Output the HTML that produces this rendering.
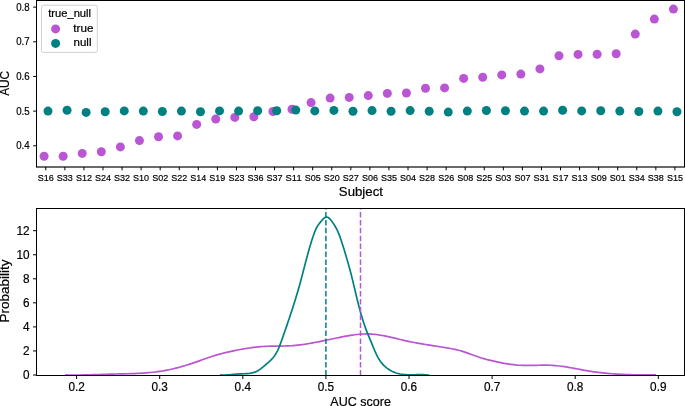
<!DOCTYPE html>
<html><head><meta charset="utf-8"><title>AUC plots</title>
<style>
html,body{margin:0;padding:0;background:#fff;}
body{width:685px;height:406px;overflow:hidden;}
svg{display:block;font-family:"Liberation Sans", sans-serif;fill:#000;will-change:transform;}
text{stroke:#000;stroke-width:0.2px;}
</style></head><body>
<svg width="685" height="406" viewBox="0 0 685 406">
<rect width="685" height="406" fill="#fff"/>
<circle cx="44.1" cy="156.2" r="4.5" fill="#ba55d3"/>
<circle cx="63.17" cy="156.2" r="4.5" fill="#ba55d3"/>
<circle cx="82.24" cy="153.4" r="4.5" fill="#ba55d3"/>
<circle cx="101.31" cy="151.8" r="4.5" fill="#ba55d3"/>
<circle cx="120.38" cy="146.9" r="4.5" fill="#ba55d3"/>
<circle cx="139.45" cy="140.6" r="4.5" fill="#ba55d3"/>
<circle cx="158.52" cy="136.7" r="4.5" fill="#ba55d3"/>
<circle cx="177.59" cy="135.9" r="4.5" fill="#ba55d3"/>
<circle cx="196.66" cy="124.4" r="4.5" fill="#ba55d3"/>
<circle cx="215.73" cy="119.1" r="4.5" fill="#ba55d3"/>
<circle cx="234.8" cy="117.4" r="4.5" fill="#ba55d3"/>
<circle cx="253.87" cy="116.8" r="4.5" fill="#ba55d3"/>
<circle cx="272.94" cy="111.5" r="4.5" fill="#ba55d3"/>
<circle cx="292.01" cy="109.3" r="4.5" fill="#ba55d3"/>
<circle cx="311.08" cy="102.6" r="4.5" fill="#ba55d3"/>
<circle cx="330.15" cy="98.1" r="4.5" fill="#ba55d3"/>
<circle cx="349.22" cy="97.4" r="4.5" fill="#ba55d3"/>
<circle cx="368.29" cy="95.6" r="4.5" fill="#ba55d3"/>
<circle cx="387.36" cy="93.4" r="4.5" fill="#ba55d3"/>
<circle cx="406.43" cy="93" r="4.5" fill="#ba55d3"/>
<circle cx="425.5" cy="88.3" r="4.5" fill="#ba55d3"/>
<circle cx="444.57" cy="87.9" r="4.5" fill="#ba55d3"/>
<circle cx="463.64" cy="78.4" r="4.5" fill="#ba55d3"/>
<circle cx="482.71" cy="77.2" r="4.5" fill="#ba55d3"/>
<circle cx="501.78" cy="74.9" r="4.5" fill="#ba55d3"/>
<circle cx="520.85" cy="74.1" r="4.5" fill="#ba55d3"/>
<circle cx="539.92" cy="68.9" r="4.5" fill="#ba55d3"/>
<circle cx="558.99" cy="55.7" r="4.5" fill="#ba55d3"/>
<circle cx="578.06" cy="54.4" r="4.5" fill="#ba55d3"/>
<circle cx="597.13" cy="54.3" r="4.5" fill="#ba55d3"/>
<circle cx="616.2" cy="53.7" r="4.5" fill="#ba55d3"/>
<circle cx="635.27" cy="34.1" r="4.5" fill="#ba55d3"/>
<circle cx="654.34" cy="19.1" r="4.5" fill="#ba55d3"/>
<circle cx="673.41" cy="9.1" r="4.5" fill="#ba55d3"/>
<circle cx="48" cy="111.1" r="4.5" fill="#008080"/>
<circle cx="67.06" cy="110.3" r="4.5" fill="#008080"/>
<circle cx="86.12" cy="112.4" r="4.5" fill="#008080"/>
<circle cx="105.18" cy="111.7" r="4.5" fill="#008080"/>
<circle cx="124.24" cy="110.9" r="4.5" fill="#008080"/>
<circle cx="143.3" cy="111.1" r="4.5" fill="#008080"/>
<circle cx="162.36" cy="111.5" r="4.5" fill="#008080"/>
<circle cx="181.42" cy="111.1" r="4.5" fill="#008080"/>
<circle cx="200.48" cy="111.7" r="4.5" fill="#008080"/>
<circle cx="219.54" cy="110.9" r="4.5" fill="#008080"/>
<circle cx="238.6" cy="111.1" r="4.5" fill="#008080"/>
<circle cx="257.66" cy="110.7" r="4.5" fill="#008080"/>
<circle cx="276.72" cy="110.7" r="4.5" fill="#008080"/>
<circle cx="295.78" cy="110.1" r="4.5" fill="#008080"/>
<circle cx="314.84" cy="110.9" r="4.5" fill="#008080"/>
<circle cx="333.9" cy="110.4" r="4.5" fill="#008080"/>
<circle cx="352.96" cy="111.3" r="4.5" fill="#008080"/>
<circle cx="372.02" cy="110.6" r="4.5" fill="#008080"/>
<circle cx="391.08" cy="111.3" r="4.5" fill="#008080"/>
<circle cx="410.14" cy="110.6" r="4.5" fill="#008080"/>
<circle cx="429.2" cy="111.3" r="4.5" fill="#008080"/>
<circle cx="448.26" cy="112.1" r="4.5" fill="#008080"/>
<circle cx="467.32" cy="111.1" r="4.5" fill="#008080"/>
<circle cx="486.38" cy="110.5" r="4.5" fill="#008080"/>
<circle cx="505.44" cy="110.7" r="4.5" fill="#008080"/>
<circle cx="524.5" cy="111.1" r="4.5" fill="#008080"/>
<circle cx="543.56" cy="111.1" r="4.5" fill="#008080"/>
<circle cx="562.62" cy="110.3" r="4.5" fill="#008080"/>
<circle cx="581.68" cy="110.9" r="4.5" fill="#008080"/>
<circle cx="600.74" cy="110.8" r="4.5" fill="#008080"/>
<circle cx="619.8" cy="111.1" r="4.5" fill="#008080"/>
<circle cx="638.86" cy="111.5" r="4.5" fill="#008080"/>
<circle cx="657.92" cy="111.1" r="4.5" fill="#008080"/>
<circle cx="676.98" cy="111.7" r="4.5" fill="#008080"/>
<rect x="36.5" y="0.5" width="648" height="166.5" fill="none" stroke="#000" stroke-width="1"/>
<path d="M36.0 167H685.0" stroke="#000" stroke-opacity="0.35" stroke-width="1" fill="none"/>
<text x="45.8" y="180.6" font-size="9.8" text-anchor="middle" textLength="16.02" lengthAdjust="spacingAndGlyphs">S16</text>
<text x="64.86" y="180.6" font-size="9.8" text-anchor="middle" textLength="16.02" lengthAdjust="spacingAndGlyphs">S33</text>
<text x="83.93" y="180.6" font-size="9.8" text-anchor="middle" textLength="16.02" lengthAdjust="spacingAndGlyphs">S12</text>
<text x="102.99" y="180.6" font-size="9.8" text-anchor="middle" textLength="16.02" lengthAdjust="spacingAndGlyphs">S24</text>
<text x="122.06" y="180.6" font-size="9.8" text-anchor="middle" textLength="16.02" lengthAdjust="spacingAndGlyphs">S32</text>
<text x="141.12" y="180.6" font-size="9.8" text-anchor="middle" textLength="16.02" lengthAdjust="spacingAndGlyphs">S10</text>
<text x="160.18" y="180.6" font-size="9.8" text-anchor="middle" textLength="16.02" lengthAdjust="spacingAndGlyphs">S02</text>
<text x="179.25" y="180.6" font-size="9.8" text-anchor="middle" textLength="16.02" lengthAdjust="spacingAndGlyphs">S22</text>
<text x="198.31" y="180.6" font-size="9.8" text-anchor="middle" textLength="16.02" lengthAdjust="spacingAndGlyphs">S14</text>
<text x="217.38" y="180.6" font-size="9.8" text-anchor="middle" textLength="16.02" lengthAdjust="spacingAndGlyphs">S19</text>
<text x="236.44" y="180.6" font-size="9.8" text-anchor="middle" textLength="16.02" lengthAdjust="spacingAndGlyphs">S23</text>
<text x="255.5" y="180.6" font-size="9.8" text-anchor="middle" textLength="16.02" lengthAdjust="spacingAndGlyphs">S36</text>
<text x="274.57" y="180.6" font-size="9.8" text-anchor="middle" textLength="16.02" lengthAdjust="spacingAndGlyphs">S37</text>
<text x="293.63" y="180.6" font-size="9.8" text-anchor="middle" textLength="16.02" lengthAdjust="spacingAndGlyphs">S11</text>
<text x="312.7" y="180.6" font-size="9.8" text-anchor="middle" textLength="16.02" lengthAdjust="spacingAndGlyphs">S05</text>
<text x="331.76" y="180.6" font-size="9.8" text-anchor="middle" textLength="16.02" lengthAdjust="spacingAndGlyphs">S20</text>
<text x="350.82" y="180.6" font-size="9.8" text-anchor="middle" textLength="16.02" lengthAdjust="spacingAndGlyphs">S27</text>
<text x="369.89" y="180.6" font-size="9.8" text-anchor="middle" textLength="16.02" lengthAdjust="spacingAndGlyphs">S06</text>
<text x="388.95" y="180.6" font-size="9.8" text-anchor="middle" textLength="16.02" lengthAdjust="spacingAndGlyphs">S35</text>
<text x="408.02" y="180.6" font-size="9.8" text-anchor="middle" textLength="16.02" lengthAdjust="spacingAndGlyphs">S04</text>
<text x="427.08" y="180.6" font-size="9.8" text-anchor="middle" textLength="16.02" lengthAdjust="spacingAndGlyphs">S28</text>
<text x="446.14" y="180.6" font-size="9.8" text-anchor="middle" textLength="16.02" lengthAdjust="spacingAndGlyphs">S26</text>
<text x="465.21" y="180.6" font-size="9.8" text-anchor="middle" textLength="16.02" lengthAdjust="spacingAndGlyphs">S08</text>
<text x="484.27" y="180.6" font-size="9.8" text-anchor="middle" textLength="16.02" lengthAdjust="spacingAndGlyphs">S25</text>
<text x="503.34" y="180.6" font-size="9.8" text-anchor="middle" textLength="16.02" lengthAdjust="spacingAndGlyphs">S03</text>
<text x="522.4" y="180.6" font-size="9.8" text-anchor="middle" textLength="16.02" lengthAdjust="spacingAndGlyphs">S07</text>
<text x="541.46" y="180.6" font-size="9.8" text-anchor="middle" textLength="16.02" lengthAdjust="spacingAndGlyphs">S31</text>
<text x="560.53" y="180.6" font-size="9.8" text-anchor="middle" textLength="16.02" lengthAdjust="spacingAndGlyphs">S17</text>
<text x="579.59" y="180.6" font-size="9.8" text-anchor="middle" textLength="16.02" lengthAdjust="spacingAndGlyphs">S13</text>
<text x="598.66" y="180.6" font-size="9.8" text-anchor="middle" textLength="16.02" lengthAdjust="spacingAndGlyphs">S09</text>
<text x="617.72" y="180.6" font-size="9.8" text-anchor="middle" textLength="16.02" lengthAdjust="spacingAndGlyphs">S01</text>
<text x="636.78" y="180.6" font-size="9.8" text-anchor="middle" textLength="16.02" lengthAdjust="spacingAndGlyphs">S34</text>
<text x="655.85" y="180.6" font-size="9.8" text-anchor="middle" textLength="16.02" lengthAdjust="spacingAndGlyphs">S38</text>
<text x="674.91" y="180.6" font-size="9.8" text-anchor="middle" textLength="16.02" lengthAdjust="spacingAndGlyphs">S15</text>
<text x="29.6" y="149.15" font-size="10" text-anchor="end" textLength="13.36" lengthAdjust="spacingAndGlyphs">0.4</text>
<text x="29.6" y="114.5" font-size="10" text-anchor="end" textLength="13.36" lengthAdjust="spacingAndGlyphs">0.5</text>
<text x="29.6" y="79.85" font-size="10" text-anchor="end" textLength="13.36" lengthAdjust="spacingAndGlyphs">0.6</text>
<text x="29.6" y="45.2" font-size="10" text-anchor="end" textLength="13.36" lengthAdjust="spacingAndGlyphs">0.7</text>
<text x="29.6" y="10.55" font-size="10" text-anchor="end" textLength="13.36" lengthAdjust="spacingAndGlyphs">0.8</text>
<path d="M45.8 167v3.3M64.86 167v3.3M83.93 167v3.3M102.99 167v3.3M122.06 167v3.3M141.12 167v3.3M160.18 167v3.3M179.25 167v3.3M198.31 167v3.3M217.38 167v3.3M236.44 167v3.3M255.5 167v3.3M274.57 167v3.3M293.63 167v3.3M312.7 167v3.3M331.76 167v3.3M350.82 167v3.3M369.89 167v3.3M388.95 167v3.3M408.02 167v3.3M427.08 167v3.3M446.14 167v3.3M465.21 167v3.3M484.27 167v3.3M503.34 167v3.3M522.4 167v3.3M541.46 167v3.3M560.53 167v3.3M579.59 167v3.3M598.66 167v3.3M617.72 167v3.3M636.78 167v3.3M655.85 167v3.3M674.91 167v3.3M36.5 145.75h-3.3M36.5 111.1h-3.3M36.5 76.45h-3.3M36.5 41.8h-3.3M36.5 7.15h-3.3" stroke="#000" stroke-width="1" fill="none"/>
<text x="360.9" y="195.5" font-size="12.3" text-anchor="middle" textLength="44.11" lengthAdjust="spacingAndGlyphs">Subject</text>
<text x="9.3" y="83.4" font-size="12.3" text-anchor="middle" textLength="24.95" lengthAdjust="spacingAndGlyphs" transform="rotate(-90 9.3 83.4)">AUC</text>
<rect x="41.5" y="5.2" width="55.8" height="47.2" rx="2" ry="2" fill="#fff" fill-opacity="0.8" stroke="#d0d0d0" stroke-width="1"/>
<text x="69.6" y="16.8" font-size="10.2" text-anchor="middle" textLength="42.88" lengthAdjust="spacingAndGlyphs">true_null</text>
<circle cx="55.6" cy="28.9" r="4.5" fill="#ba55d3"/>
<circle cx="55.6" cy="43.4" r="4.5" fill="#008080"/>
<text x="73.3" y="31.9" font-size="10.2" text-anchor="start" textLength="20.11" lengthAdjust="spacingAndGlyphs">true</text>
<text x="73.6" y="46.4" font-size="10.2" text-anchor="start" textLength="17.87" lengthAdjust="spacingAndGlyphs">null</text>
<path d="M65.09 374.96 67.42 375.00 69.74 375.04 72.06 375.05 74.38 375.05 76.70 375.04 79.01 375.02 81.33 374.99 83.64 374.95 85.95 374.90 88.26 374.84 90.57 374.78 92.88 374.71 95.19 374.64 97.49 374.57 99.80 374.50 102.11 374.42 104.42 374.35 106.73 374.27 109.05 374.20 111.36 374.14 113.68 374.08 116.00 374.02 118.31 373.97 120.64 373.92 122.96 373.87 125.28 373.82 127.60 373.76 129.92 373.70 132.24 373.63 134.56 373.54 136.88 373.45 139.20 373.34 141.51 373.21 143.83 373.07 146.14 372.90 148.44 372.71 150.75 372.50 153.04 372.27 155.34 372.00 157.63 371.70 159.91 371.37 162.19 371.01 164.47 370.61 166.74 370.18 169.00 369.72 171.26 369.23 173.51 368.71 175.76 368.17 178.00 367.59 180.23 366.99 182.46 366.36 184.68 365.71 186.90 365.04 189.11 364.34 191.31 363.63 193.50 362.89 195.69 362.13 197.88 361.36 200.06 360.58 202.23 359.79 204.41 359.00 206.59 358.22 208.78 357.46 210.97 356.72 213.17 356.01 215.38 355.33 217.61 354.68 219.84 354.07 222.08 353.48 224.33 352.92 226.58 352.38 228.85 351.86 231.11 351.36 233.38 350.88 235.65 350.41 237.92 349.96 240.20 349.53 242.48 349.12 244.76 348.73 247.04 348.36 249.33 348.01 251.62 347.69 253.91 347.40 256.20 347.13 258.50 346.90 260.80 346.69 263.10 346.52 265.41 346.37 267.72 346.27 270.03 346.20 272.34 346.15 274.66 346.12 276.98 346.10 279.30 346.09 281.62 346.06 283.94 346.02 286.25 345.96 288.57 345.86 290.89 345.73 293.20 345.56 295.51 345.36 297.82 345.13 300.12 344.87 302.42 344.57 304.72 344.25 307.00 343.90 309.28 343.53 311.56 343.13 313.83 342.71 316.10 342.28 318.37 341.83 320.63 341.37 322.89 340.90 325.16 340.43 327.42 339.94 329.68 339.46 331.94 338.98 334.21 338.50 336.48 338.02 338.75 337.55 341.02 337.09 343.30 336.64 345.59 336.21 347.88 335.80 350.17 335.42 352.47 335.07 354.77 334.76 357.07 334.49 359.37 334.27 361.67 334.10 363.97 333.99 366.27 333.94 368.56 333.97 370.85 334.06 373.14 334.23 375.43 334.46 377.71 334.75 379.99 335.09 382.27 335.48 384.55 335.91 386.83 336.37 389.10 336.86 391.37 337.38 393.64 337.91 395.91 338.45 398.18 338.99 400.45 339.53 402.72 340.07 404.99 340.59 407.26 341.10 409.53 341.58 411.80 342.04 414.07 342.48 416.34 342.90 418.62 343.31 420.89 343.71 423.16 344.10 425.44 344.47 427.72 344.84 429.99 345.20 432.27 345.56 434.55 345.92 436.83 346.27 439.12 346.63 441.40 346.99 443.69 347.35 445.98 347.73 448.27 348.11 450.55 348.52 452.83 348.96 455.10 349.43 457.36 349.95 459.60 350.53 461.83 351.16 464.03 351.86 466.22 352.60 468.40 353.38 470.58 354.18 472.75 354.99 474.92 355.79 477.10 356.57 479.29 357.31 481.49 358.01 483.70 358.66 485.93 359.28 488.16 359.87 490.40 360.42 492.66 360.95 494.91 361.45 497.18 361.94 499.45 362.41 501.72 362.86 504.00 363.29 506.28 363.70 508.57 364.08 510.86 364.41 513.16 364.70 515.46 364.95 517.76 365.14 520.07 365.27 522.39 365.36 524.70 365.41 527.02 365.42 529.34 365.41 531.66 365.38 533.99 365.34 536.31 365.29 538.63 365.25 540.95 365.21 543.27 365.18 545.59 365.18 547.90 365.21 550.21 365.27 552.52 365.37 554.82 365.53 557.12 365.73 559.41 365.98 561.70 366.27 563.99 366.59 566.27 366.95 568.55 367.33 570.83 367.73 573.11 368.15 575.39 368.58 577.67 369.01 579.95 369.44 582.23 369.87 584.51 370.29 586.79 370.70 589.07 371.08 591.36 371.45 593.65 371.79 595.94 372.10 598.23 372.40 600.53 372.68 602.83 372.93 605.13 373.17 607.43 373.38 609.73 373.58 612.04 373.76 614.35 373.93 616.65 374.08 618.96 374.22 621.27 374.34 623.59 374.44 625.90 374.54 628.21 374.62 630.53 374.69 632.84 374.76 635.16 374.81 637.47 374.85 639.79 374.89 642.11 374.92 644.42 374.94 646.74 374.95 649.06 374.96 651.37 374.97 653.69 374.97 656.00 374.97" stroke="#ba55d3" stroke-width="1.7" fill="none" stroke-linejoin="round"/>
<path d="M219.87 374.96 221.55 375.02 223.21 375.03 224.84 375.00 226.46 374.94 228.06 374.85 229.65 374.74 231.24 374.61 232.83 374.47 234.42 374.33 236.02 374.20 237.63 374.08 239.26 373.97 240.90 373.89 242.57 373.82 244.24 373.75 245.91 373.66 247.57 373.55 249.21 373.38 250.83 373.15 252.41 372.84 253.95 372.43 255.44 371.91 256.86 371.26 258.24 370.50 259.57 369.63 260.87 368.69 262.14 367.68 263.40 366.64 264.66 365.57 265.92 364.50 267.18 363.43 268.43 362.34 269.65 361.24 270.84 360.10 271.97 358.94 273.04 357.73 274.04 356.48 274.96 355.17 275.82 353.83 276.62 352.44 277.36 351.03 278.06 349.58 278.71 348.11 279.33 346.61 279.93 345.10 280.50 343.57 281.06 342.04 281.60 340.50 282.15 338.96 282.69 337.42 283.23 335.88 283.77 334.34 284.30 332.80 284.84 331.26 285.38 329.72 285.91 328.19 286.44 326.65 286.97 325.11 287.49 323.57 288.02 322.04 288.54 320.50 289.06 318.96 289.58 317.42 290.09 315.89 290.60 314.35 291.11 312.81 291.62 311.27 292.12 309.73 292.62 308.18 293.11 306.64 293.60 305.10 294.09 303.56 294.58 302.01 295.06 300.46 295.53 298.92 296.01 297.37 296.48 295.82 296.94 294.27 297.40 292.71 297.85 291.16 298.31 289.60 298.75 288.05 299.19 286.49 299.63 284.93 300.06 283.36 300.49 281.80 300.91 280.23 301.33 278.66 301.74 277.09 302.15 275.52 302.57 273.95 302.97 272.38 303.38 270.81 303.79 269.24 304.20 267.66 304.60 266.09 305.01 264.52 305.42 262.95 305.83 261.38 306.24 259.81 306.66 258.24 307.08 256.67 307.50 255.10 307.93 253.54 308.36 251.97 308.80 250.41 309.24 248.85 309.69 247.30 310.15 245.74 310.61 244.19 311.09 242.64 311.57 241.10 312.06 239.55 312.56 238.01 313.08 236.48 313.60 234.95 314.14 233.42 314.70 231.91 315.30 230.41 315.95 228.94 316.67 227.50 317.47 226.10 318.37 224.76 319.36 223.45 320.43 222.13 321.57 220.76 322.74 219.39 323.95 218.19 325.18 217.32 326.43 216.97 327.67 217.24 328.89 218.02 330.08 219.16 331.22 220.52 332.29 221.94 333.29 223.38 334.23 224.82 335.11 226.27 335.92 227.73 336.69 229.20 337.41 230.67 338.08 232.15 338.72 233.64 339.32 235.14 339.89 236.64 340.44 238.15 340.96 239.66 341.46 241.18 341.96 242.70 342.44 244.23 342.92 245.76 343.40 247.29 343.88 248.83 344.35 250.37 344.82 251.92 345.29 253.47 345.75 255.02 346.21 256.57 346.67 258.13 347.12 259.69 347.57 261.25 348.01 262.82 348.45 264.38 348.89 265.95 349.32 267.52 349.75 269.09 350.17 270.67 350.58 272.24 350.99 273.82 351.40 275.40 351.79 276.98 352.19 278.56 352.58 280.14 352.96 281.72 353.34 283.30 353.72 284.88 354.10 286.46 354.47 288.05 354.85 289.63 355.22 291.21 355.60 292.79 355.97 294.37 356.35 295.95 356.73 297.52 357.11 299.10 357.50 300.68 357.89 302.25 358.28 303.82 358.68 305.39 359.09 306.96 359.50 308.52 359.92 310.09 360.34 311.65 360.78 313.21 361.22 314.76 361.68 316.31 362.14 317.86 362.61 319.41 363.10 320.95 363.60 322.49 364.11 324.02 364.63 325.55 365.17 327.08 365.72 328.60 366.29 330.12 366.87 331.63 367.47 333.15 368.07 334.65 368.69 336.16 369.31 337.66 369.94 339.17 370.57 340.67 371.20 342.17 371.82 343.68 372.45 345.19 373.07 346.71 373.69 348.22 374.32 349.73 374.96 351.22 375.62 352.71 376.30 354.18 377.01 355.62 377.76 357.05 378.54 358.44 379.38 359.80 380.26 361.13 381.20 362.41 382.21 363.65 383.28 364.84 384.43 365.98 385.64 367.06 386.91 368.08 388.23 369.04 389.61 369.93 391.02 370.75 392.48 371.49 393.96 372.16 395.48 372.74 397.01 373.23 398.56 373.64 400.13 373.98 401.71 374.24 403.30 374.44 404.91 374.59 406.52 374.69 408.15 374.75 409.78 374.77 411.41 374.77 413.05 374.76 414.69 374.73 416.33 374.70 417.96 374.67 419.60 374.65 421.23 374.66 422.86 374.68 424.47 374.75 426.08 374.85 427.68 375.00 429.27 375.20" stroke="#008080" stroke-width="1.7" fill="none" stroke-linejoin="round"/>
<path d="M325.9 375.5V208.5" stroke="#008080" stroke-width="1.5" stroke-dasharray="5.5 2.4" fill="none"/>
<path d="M360.5 375.5V208.5" stroke="#ba55d3" stroke-width="1.5" stroke-dasharray="5.5 2.4" fill="none"/>
<rect x="36.5" y="208.5" width="648" height="167" fill="none" stroke="#000" stroke-width="1"/>
<text x="76.6" y="390.7" font-size="12.1" text-anchor="middle" textLength="16.38" lengthAdjust="spacingAndGlyphs">0.2</text>
<text x="159.7" y="390.7" font-size="12.1" text-anchor="middle" textLength="16.38" lengthAdjust="spacingAndGlyphs">0.3</text>
<text x="242.8" y="390.7" font-size="12.1" text-anchor="middle" textLength="16.38" lengthAdjust="spacingAndGlyphs">0.4</text>
<text x="325.9" y="390.7" font-size="12.1" text-anchor="middle" textLength="16.38" lengthAdjust="spacingAndGlyphs">0.5</text>
<text x="409" y="390.7" font-size="12.1" text-anchor="middle" textLength="16.38" lengthAdjust="spacingAndGlyphs">0.6</text>
<text x="492.1" y="390.7" font-size="12.1" text-anchor="middle" textLength="16.38" lengthAdjust="spacingAndGlyphs">0.7</text>
<text x="575.2" y="390.7" font-size="12.1" text-anchor="middle" textLength="16.38" lengthAdjust="spacingAndGlyphs">0.8</text>
<text x="658.3" y="390.7" font-size="12.1" text-anchor="middle" textLength="16.38" lengthAdjust="spacingAndGlyphs">0.9</text>
<text x="29.6" y="379.15" font-size="12.1" text-anchor="end" textLength="6.55" lengthAdjust="spacingAndGlyphs">0</text>
<text x="29.6" y="355.1" font-size="12.1" text-anchor="end" textLength="6.55" lengthAdjust="spacingAndGlyphs">2</text>
<text x="29.6" y="331.05" font-size="12.1" text-anchor="end" textLength="6.55" lengthAdjust="spacingAndGlyphs">4</text>
<text x="29.6" y="307" font-size="12.1" text-anchor="end" textLength="6.55" lengthAdjust="spacingAndGlyphs">6</text>
<text x="29.6" y="282.95" font-size="12.1" text-anchor="end" textLength="6.55" lengthAdjust="spacingAndGlyphs">8</text>
<text x="29.6" y="258.9" font-size="12.1" text-anchor="end" textLength="13.11" lengthAdjust="spacingAndGlyphs">10</text>
<text x="29.6" y="234.85" font-size="12.1" text-anchor="end" textLength="13.11" lengthAdjust="spacingAndGlyphs">12</text>
<path d="M76.6 375.5v3.5M159.7 375.5v3.5M242.8 375.5v3.5M325.9 375.5v3.5M409 375.5v3.5M492.1 375.5v3.5M575.2 375.5v3.5M658.3 375.5v3.5M36.5 375h-3.5M36.5 350.95h-3.5M36.5 326.9h-3.5M36.5 302.85h-3.5M36.5 278.8h-3.5M36.5 254.75h-3.5M36.5 230.7h-3.5" stroke="#000" stroke-width="1" fill="none"/>
<text x="360.6" y="405.7" font-size="12.3" text-anchor="middle" textLength="60.66" lengthAdjust="spacingAndGlyphs">AUC score</text>
<text x="9.2" y="291" font-size="12.3" text-anchor="middle" textLength="62.84" lengthAdjust="spacingAndGlyphs" transform="rotate(-90 9.2 291)">Probability</text>
</svg>
</body></html>
